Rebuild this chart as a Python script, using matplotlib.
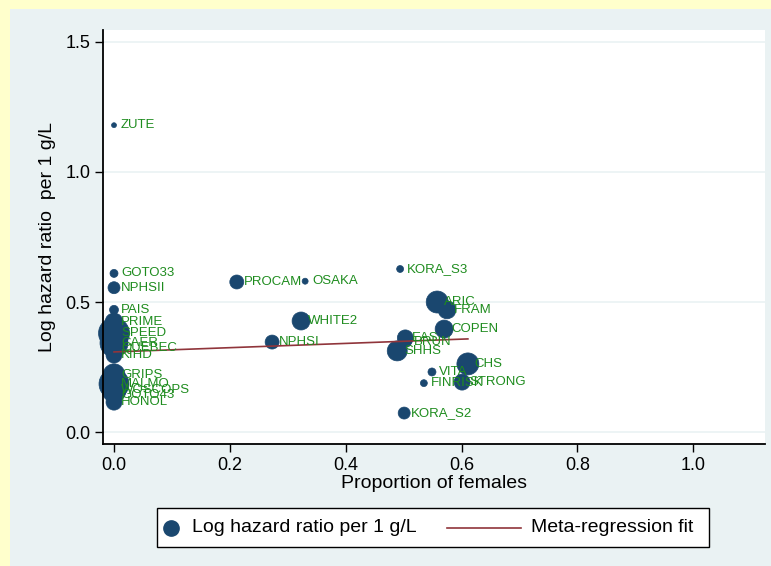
import matplotlib
matplotlib.use("Agg")
import matplotlib.pyplot as plt
from matplotlib.patches import Rectangle
from matplotlib.lines import Line2D
import numpy as np

# ---- data ----
studies = ["ZUTE", "GOTO33", "NPHSII", "PAIS", "PRIME", "SPEED", "CAER", "QUEBEC", "KIHD",
           "GRIPS", "MALMO", "WOSCOPS", "GOTO43", "HONOL",
           "PROCAM", "OSAKA", "WHITE2", "NPHSI",
           "KORA_S3", "ARIC", "FRAM", "COPEN", "EAS", "BRUN", "SHHS",
           "CHS", "STRONG", "VITA", "FINRISK", "KORA_S2"]
prop_female = [0.0, 0.0, 0.0, 0.0, 0.0, 0.0, 0.0, 0.0, 0.0,
               0.0, 0.0, 0.0, 0.0, 0.0,
               0.212, 0.330, 0.323, 0.273,
               0.494, 0.558, 0.575, 0.570, 0.503, 0.505, 0.489,
               0.611, 0.601, 0.549, 0.535, 0.501]
log_hr = [1.18, 0.61, 0.555, 0.47, 0.423, 0.38, 0.342, 0.323, 0.296,
          0.22, 0.185, 0.16, 0.142, 0.115,
          0.577, 0.58, 0.427, 0.346,
          0.627, 0.50, 0.47, 0.396, 0.362, 0.346, 0.312,
          0.262, 0.192, 0.231, 0.188, 0.073]
weights = [6, 16, 36, 20, 81, 240, 196, 81, 64,
           121, 225, 144, 64, 64,
           49, 9, 81, 49,
           12, 121, 81, 81, 64, 25, 100,
           121, 64, 16, 12, 36]
fit_intercept = 0.308
fit_slope = 0.082
xticks = [0.0, 0.2, 0.4, 0.6, 0.8, 1.0]
yticks = [0.0, 0.5, 1.0, 1.5]
legend_labels = ["Log hazard ratio per 1 g/L", "Meta-regression fit"]

# ---- styles ----
NAVY = "#1a476f"
GREEN = "#1e8c1e"
MAROON = "#90353b"
PANEL = "#eaf2f3"
OUTER = "#ffffcc"
FONT = "Liberation Sans"

W, H = 771, 566
fig = plt.figure(figsize=(W / 100, H / 100), dpi=100)
fig.patch.set_facecolor(OUTER)
fig.patches.append(Rectangle((10 / W, 0), 1 - 10 / W, 1 - 9 / H, transform=fig.transFigure,
                             facecolor=PANEL, edgecolor="none", zorder=-10))

ax = fig.add_axes([103 / W, 1 - 444 / H, (765 - 103) / W, (444 - 30) / H])
ax.set_zorder(1)
ax.set_facecolor("white")
ax.set_xlim(-0.019, 1.124)
ax.set_ylim(-0.046, 1.546)

for s in ["top", "right"]:
    ax.spines[s].set_visible(False)
for s in ["left", "bottom"]:
    ax.spines[s].set_linewidth(1.3)
    ax.spines[s].set_color("black")

ax.set_xticks(xticks)
ax.set_xticklabels([f"{t:.1f}" for t in xticks])
ax.set_yticks(yticks)
ax.set_yticklabels([f"{t:.1f}" for t in yticks])
ax.tick_params(axis="both", direction="out", length=6, width=1, labelsize=13, pad=3)
for lab in ax.get_xticklabels() + ax.get_yticklabels():
    lab.set_fontfamily(FONT)
ax.grid(axis="y", color=PANEL, linewidth=1.2, zorder=0)
ax.set_axisbelow(True)

sizes = [2.07 * w for w in weights]
ax.scatter(prop_female, log_hr, s=sizes, color=NAVY, edgecolors=NAVY, linewidths=0.5,
           zorder=2, clip_on=False)

xf = np.array([min(prop_female), max(prop_female)])
ax.plot(xf, fit_intercept + fit_slope * xf, color=MAROON, linewidth=1.2, zorder=3)

for name, xv, yv in zip(studies, prop_female, log_hr):
    ax.annotate(name, (xv, yv), xytext=(5, 0), textcoords="offset points",
                ha="left", va="center", color=GREEN, fontsize=9.5, fontfamily=FONT, zorder=4)

ax.set_xlabel("Proportion of females", fontsize=14, fontfamily=FONT, labelpad=1)
ax.set_ylabel("Log hazard ratio  per 1 g/L", fontsize=14, fontfamily=FONT, labelpad=7)

# ---- legend (drawn manually to match layout) ----
ly = 1 - 527.5 / H
fig.patches.append(Rectangle((157 / W, 1 - 547 / H), (709 - 157) / W, (547 - 508) / H,
                             transform=fig.transFigure, facecolor="white",
                             edgecolor="black", linewidth=1.0, zorder=5))
fig.lines.append(Line2D([171 / W], [ly], marker="o", linestyle="none", color=NAVY,
                        markersize=11, transform=fig.transFigure, zorder=6))
fig.text(192 / W, ly, legend_labels[0], ha="left", va="center", fontsize=14,
         fontfamily=FONT, zorder=6)
fig.lines.append(Line2D([447 / W, 521 / W], [ly, ly], color=MAROON, linewidth=1.2,
                        transform=fig.transFigure, zorder=6))
fig.text(531 / W, ly, legend_labels[1], ha="left", va="center", fontsize=14,
         fontfamily=FONT, zorder=6)

fig.savefig("out.png", dpi=100, facecolor=fig.get_facecolor())
